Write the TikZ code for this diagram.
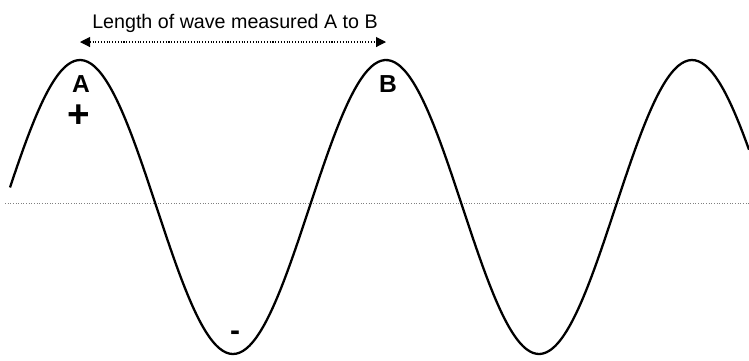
\documentclass[tikz,border=0pt]{standalone}
\usepackage{fontspec}
\setmainfont{Liberation Sans}
\usetikzlibrary{arrows.meta,positioning}
\tikzset{
	wave/.style={line width=1.3pt, black, line join=round},
	baseline/.style={densely dotted, gray, line width=0.5pt},
	span/.style={{Triangle[length=2mm,width=2mm]}-{Triangle[length=2mm,width=2mm]}, densely dotted, line width=0.6pt},
	caption/.style={font=\fontsize{11.2}{13}\selectfont, inner sep=0pt},
	mark label/.style={font=\fontsize{14}{16}\selectfont\bfseries, inner sep=0pt},
	sign/.style={font=\fontsize{22}{24}\selectfont\bfseries, inner sep=0pt}
}

\begin{document}
\begin{tikzpicture}[x=0.02cm, y=-0.02cm]
	\useasboundingbox (0,0) rectangle (749,360);
	% zero line and the wave
	\draw[baseline] (5,203) -- (749,203);
	\draw[wave] plot[domain=10:749, samples=220, smooth] (\x, {207-147*cos(1.17647*(\x-80))});
	% crests used for the measurement
	\coordinate (crestA) at (80,42);
	\coordinate (crestB) at (386,42);
	\draw[span] (crestA) -- (crestB);
	\node[caption, anchor=base] (title) at (235,28) {Length of wave measured A to B};
	\node[mark label] (labA) at (81,84) {A};
	\node[sign] (plus) at (79,116) {+};
	\node[mark label] (labB) at (388,84) {B};
	\node[sign, font=\fontsize{17}{19}\selectfont\bfseries] (minus) at (235,336) {-};
\end{tikzpicture}
\end{document}
